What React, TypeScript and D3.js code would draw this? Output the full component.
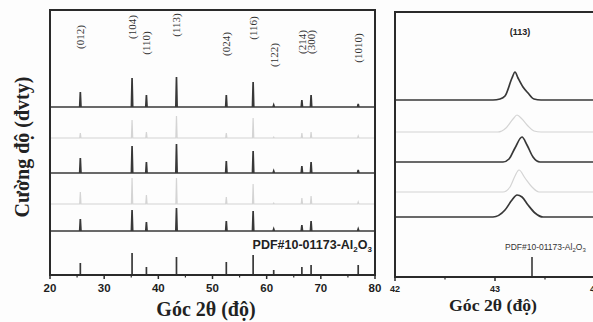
import React, { useEffect, useRef } from 'react';
import * as d3 from 'd3';

// Al2O3 reflections (hkl) and their 2θ positions
const hklLabels = ['(012)', '(104)', '(110)', '(113)', '(024)', '(116)', '(122)', '(214)', '(300)', '(1010)'];
const peakTwoTheta = [25.6, 35.15, 37.8, 43.35, 52.55, 57.5, 61.3, 66.5, 68.2, 76.9];

// peak heights (a.u.) for each sample pattern, top to bottom
const sample1 = [15, 29, 12, 30, 12, 25, 2, 7, 12, 3];
const sample2 = [5, 18, 6, 22, 5, 20, 1, 5, 6, 2];
const sample3 = [15, 27, 11, 29, 12, 22, 2, 7, 11, 3];
const sample4 = [12, 26, 9, 26, 7, 20, 1, 6, 8, 2];
const sample5 = [12, 21, 9, 23, 10, 20, 2, 6, 10, 2];
const pdfRef = [12, 22, 8, 18, 13, 20, 5, 8, 10, 10];

// vertical offsets (a.u.) of the stacked patterns
const offsetsLeft = [168, 137, 102, 71, 44];
const offsetsRight = [177, 145, 115, 85, 60];
const tone = ['dark', 'light', 'dark', 'light', 'dark'];

// zoomed (113) profiles: [2θ, intensity above baseline]
const zoom1: [number, number][] = [[42, 0], [42.98, 0], [43.05, 1], [43.1, 4], [43.17, 22], [43.2, 28], [43.23, 22], [43.28, 13], [43.33, 7], [43.39, 1], [43.46, 0], [44, 0]];
const zoom2: [number, number][] = [[42, 0], [43.03, 0], [43.11, 4], [43.18, 13], [43.22, 17], [43.27, 13], [43.33, 6], [43.39, 1], [43.46, 0], [44, 0]];
const zoom3: [number, number][] = [[42, 0], [43.08, 0], [43.14, 3], [43.2, 14], [43.27, 25], [43.32, 17], [43.38, 5], [43.45, 0], [44, 0]];
const zoom4: [number, number][] = [[42, 0], [43.08, 0], [43.15, 5], [43.2, 16], [43.24, 22], [43.3, 14], [43.37, 5], [43.44, 0], [44, 0]];
const zoom5: [number, number][] = [[42, 0], [42.98, 0], [43.1, 7], [43.17, 17], [43.22, 22], [43.27, 20], [43.33, 12], [43.4, 4], [43.48, 0], [44, 0]];
const zoomRef = { twoTheta: 43.37, height: 20 };

const ticksLeft = [20, 30, 40, 50, 60, 70, 80];
const ticksRight = [42, 43, 44];

// label stagger (a.u. from the axis)
const hklLabelY = [238, 248, 232, 250, 231, 247, 220, 233, 233, 227];

const W = 593;
const H = 322;

const App: React.FC = () => {
  const svgRef = useRef<SVGSVGElement>(null);

  useEffect(() => {
    if (!svgRef.current) return;
    const svg = d3.select(svgRef.current);
    svg.selectAll('*').remove();

    const dark = '#383838';
    const light = '#d4d4d4';
    const serif = '"Liberation Serif", "DejaVu Serif", serif';
    const sans = '"Liberation Sans", Arial, sans-serif';

    svg.append('rect').attr('width', W).attr('height', H).attr('fill', '#fdfdfd');

    // ---------- left panel ----------
    const xL = d3.scaleLinear().domain([20, 80]).range([50, 375]);
    const yL = d3.scaleLinear().domain([0, 265]).range([275, 10]);
    const hw = 0.12;

    const spikeLine = d3
      .line<[number, number]>()
      .x(d => xL(d[0]))
      .y(d => yL(d[1]));

    const spikes = (heights: number[], base: number): [number, number][] => {
      const pts: [number, number][] = [[20, base]];
      peakTwoTheta.forEach((p, i) => {
        pts.push([p - hw, base], [p, base + heights[i]], [p + hw, base]);
      });
      pts.push([80, base]);
      return pts;
    };

    const gl = svg.append('g');
    [sample1, sample2, sample3, sample4, sample5].forEach((s, i) => {
      gl.append('path')
        .attr('d', spikeLine(spikes(s, offsetsLeft[i])))
        .attr('fill', 'none')
        .attr('stroke', tone[i] === 'dark' ? dark : light)
        .attr('stroke-width', tone[i] === 'dark' ? 1.7 : 1.2);
    });

    // reference sticks
    gl.selectAll('.stick')
      .data(pdfRef)
      .enter()
      .append('line')
      .attr('x1', (d, i) => xL(peakTwoTheta[i]))
      .attr('x2', (d, i) => xL(peakTwoTheta[i]))
      .attr('y1', yL(0))
      .attr('y2', d => yL(d))
      .attr('stroke', dark)
      .attr('stroke-width', 1.7);

    // hkl labels
    gl.selectAll('.hkl')
      .data(hklLabels)
      .enter()
      .append('text')
      .attr('transform', (d, i) => `translate(${xL(peakTwoTheta[i]) + 4},${yL(hklLabelY[i])}) rotate(-90)`)
      .attr('text-anchor', 'middle')
      .style('font-family', serif)
      .style('font-size', '11px')
      .style('fill', '#333')
      .text(d => d);

    const pdfL = gl.append('text')
      .attr('x', 372)
      .attr('y', 249)
      .attr('text-anchor', 'end')
      .style('font-family', sans)
      .style('font-weight', 'bold')
      .style('font-size', '12.5px')
      .style('fill', '#222');
    pdfL.append('tspan').text('PDF#10-01173-Al');
    pdfL.append('tspan').attr('dy', 3).style('font-size', '8px').text('2');
    pdfL.append('tspan').attr('dy', -3).text('O');
    pdfL.append('tspan').attr('dy', 3).style('font-size', '8px').text('3');

    // frame
    gl.append('rect')
      .attr('x', 50).attr('y', 10)
      .attr('width', 325).attr('height', 265)
      .attr('fill', 'none').attr('stroke', '#2a2a2a').attr('stroke-width', 2);

    // x ticks
    const axL = gl.append('g').attr('transform', `translate(0,275)`);
    axL.selectAll('.mj')
      .data(ticksLeft)
      .enter()
      .append('line')
      .attr('x1', d => xL(d)).attr('x2', d => xL(d))
      .attr('y1', 0).attr('y2', 4)
      .attr('stroke', '#2a2a2a').attr('stroke-width', 1.5);
    axL.selectAll('.mn')
      .data(ticksLeft.slice(0, -1))
      .enter()
      .append('line')
      .attr('x1', d => xL(d + 5)).attr('x2', d => xL(d + 5))
      .attr('y1', 0).attr('y2', 2.5)
      .attr('stroke', '#2a2a2a').attr('stroke-width', 1.2);
    axL.selectAll('.lb')
      .data(ticksLeft)
      .enter()
      .append('text')
      .attr('x', d => xL(d))
      .attr('y', 17)
      .attr('text-anchor', 'middle')
      .style('font-family', sans)
      .style('font-weight', 'bold')
      .style('font-size', '11.5px')
      .style('fill', '#1e1e1e')
      .text(d => d);

    svg.append('text')
      .attr('x', 206)
      .attr('y', 316)
      .attr('text-anchor', 'middle')
      .style('font-family', serif)
      .style('font-weight', 'bold')
      .style('font-size', '20px')
      .style('fill', '#222')
      .text('Góc 2θ (độ)');

    svg.append('text')
      .attr('transform', 'translate(29,147) rotate(-90)')
      .attr('text-anchor', 'middle')
      .style('font-family', serif)
      .style('font-weight', 'bold')
      .style('font-size', '20px')
      .style('fill', '#222')
      .text('Cường độ (đvty)');

    // ---------- right panel ----------
    const xR = d3.scaleLinear().domain([42, 44]).range([395, 595]);
    const yR = d3.scaleLinear().domain([0, 265]).range([277, 12]);
    const gr = svg.append('g');

    [zoom1, zoom2, zoom3, zoom4, zoom5].forEach((prof, i) => {
      const line = d3
        .line<[number, number]>()
        .x(d => xR(d[0]))
        .y(d => yR(d[1] + offsetsRight[i]))
        .curve(d3.curveMonotoneX);
      gr.append('path')
        .attr('d', line(prof))
        .attr('fill', 'none')
        .attr('stroke', tone[i] === 'dark' ? dark : light)
        .attr('stroke-width', tone[i] === 'dark' ? 1.7 : 1.2);
    });

    gr.append('line')
      .attr('x1', xR(zoomRef.twoTheta)).attr('x2', xR(zoomRef.twoTheta))
      .attr('y1', yR(0)).attr('y2', yR(zoomRef.height))
      .attr('stroke', dark).attr('stroke-width', 1.6);

    const pdfR = gr.append('text')
      .attr('x', 505)
      .attr('y', 250)
      .style('font-family', sans)
      .style('font-size', '8.5px')
      .style('fill', '#333');
    pdfR.append('tspan').text('PDF#10-01173-Al');
    pdfR.append('tspan').attr('dy', 2).style('font-size', '6px').text('2');
    pdfR.append('tspan').attr('dy', -2).text('O');
    pdfR.append('tspan').attr('dy', 2).style('font-size', '6px').text('3');

    gr.append('text')
      .attr('x', 520)
      .attr('y', 35)
      .attr('text-anchor', 'middle')
      .style('font-family', sans)
      .style('font-weight', 'bold')
      .style('font-size', '9px')
      .style('fill', '#222')
      .text('(113)');

    gr.append('rect')
      .attr('x', 395).attr('y', 12)
      .attr('width', 203).attr('height', 265)
      .attr('fill', 'none').attr('stroke', '#2a2a2a').attr('stroke-width', 2);

    const axR = gr.append('g').attr('transform', `translate(0,277)`);
    axR.selectAll('.mj')
      .data(ticksRight)
      .enter()
      .append('line')
      .attr('x1', d => xR(d)).attr('x2', d => xR(d))
      .attr('y1', 0).attr('y2', 4)
      .attr('stroke', '#2a2a2a').attr('stroke-width', 1.5);
    axR.selectAll('.mn')
      .data(ticksRight.slice(0, -1))
      .enter()
      .append('line')
      .attr('x1', d => xR(d + 0.5)).attr('x2', d => xR(d + 0.5))
      .attr('y1', 0).attr('y2', 2.5)
      .attr('stroke', '#2a2a2a').attr('stroke-width', 1.2);
    axR.selectAll('.lb')
      .data(ticksRight)
      .enter()
      .append('text')
      .attr('x', d => xR(d))
      .attr('y', 15)
      .attr('text-anchor', 'middle')
      .style('font-family', sans)
      .style('font-weight', 'bold')
      .style('font-size', '9px')
      .style('fill', '#222')
      .text(d => d);

    svg.append('text')
      .attr('x', 493)
      .attr('y', 311)
      .attr('text-anchor', 'middle')
      .attr('textLength', 88)
      .attr('lengthAdjust', 'spacingAndGlyphs')
      .style('font-family', serif)
      .style('font-weight', 'bold')
      .style('font-size', '16px')
      .style('fill', '#222')
      .text('Góc 2θ (độ)');
  }, []);

  return (
    <svg
      ref={svgRef}
      width={W}
      height={H}
      style={{ position: 'absolute', left: 0, top: 0 }}
    />
  );
};

export default App;
